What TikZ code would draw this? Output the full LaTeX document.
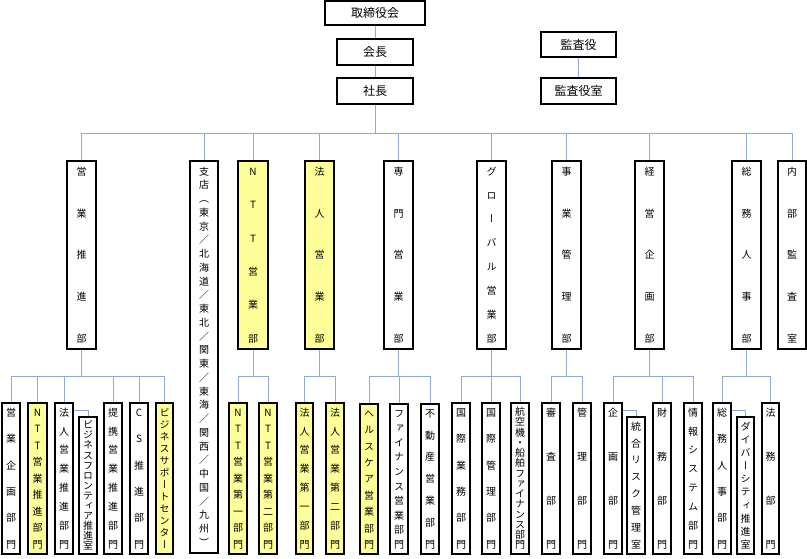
\documentclass[tikz,border=0pt]{standalone}
\usepackage{fontspec}
\setmainfont{Noto Sans CJK JP}
\newfontfamily\jpv{Noto Sans CJK JP}[RawFeature=+vert]
\definecolor{lineblue}{RGB}{142,169,219}
\definecolor{ylw}{RGB}{255,255,153}
\ExplSyntaxOn
\seq_new:N \l_my_vt_seq
\NewDocumentCommand \vtxt { m m m }
 {
  \seq_clear:N \l_my_vt_seq
  \tl_map_inline:nn {#3}
   { \seq_put_right:Nn \l_my_vt_seq { \hbox_to_wd:nn {#1} { \hss \rule[-0.12em]{0pt}{1em} ##1 \hss } } }
  \vbox_to_ht:nn {#2} { \offinterlineskip \seq_use:Nn \l_my_vt_seq { \vfill } }
 }
\ExplSyntaxOff
\newcommand\vn[8]{\node[#6,minimum width={#3pt-#2pt},minimum height={#5pt-#4pt}] (#1) at ({(#2+#3)/2},{(#4+#5)/2}) {\vtxt{\dimexpr#3pt-#2pt\relax}{\dimexpr#5pt-#4pt-#7pt\relax}{#8}};}
\tikzset{
  hb/.style={draw=black,line width=1.2pt,inner sep=0pt,fill=white,font=\fontsize{12}{14}\selectfont},
  vb/.style={draw=black,line width=1.2pt,inner sep=0pt,rectangle,fill=white},
  l1/.style={vb,font=\jpv\fontsize{10}{12}\selectfont},
  l1y/.style={l1,fill=ylw},
  l2/.style={vb,font=\jpv\fontsize{10}{12}\selectfont},
  l2y/.style={l2,fill=ylw},
  conn/.style={draw=lineblue,line width=0.9pt}
}
\begin{document}
\begin{tikzpicture}[x=1pt,y=-1pt]
\useasboundingbox (0,0) rectangle (807,558);
% top
\node[hb,minimum width=100pt,minimum height=24pt] (tori) at (375,13) {取締役会};
\node[hb,minimum width=76pt,minimum height=26pt] (kaicho) at (375,52) {会長};
\node[hb,minimum width=76pt,minimum height=26pt] (shacho) at (375,91) {社長};
\node[hb,minimum width=75pt,minimum height=25pt] (kansa) at (578.5,44.5) {監査役};
\node[hb,minimum width=75pt,minimum height=26pt] (kansas) at (578.5,91) {監査役室};
% level 1
\vn{a}{67}{96}{161}{349}{l1}{12}{営業推進部}
\vn{b}{190}{218}{161}{553}{l1}{12}{支店（東京／北海道／東北／関東／東海／関西／中国／九州）}
\vn{c}{238}{268}{161}{349}{l1y}{12}{NTT営業部}
\vn{d}{305}{334}{161}{349}{l1y}{12}{法人営業部}
\vn{e}{384}{413}{161}{349}{l1}{12}{専門営業部}
\vn{f}{477}{506}{161}{349}{l1}{12}{グローバル営業部}
\vn{g}{552}{581}{161}{349}{l1}{12}{事業管理部}
\vn{h}{635}{664}{161}{349}{l1}{12}{経営企画部}
\vn{i}{732}{761}{161}{349}{l1}{12}{総務人事部}
\vn{j}{778}{806}{161}{349}{l1}{12}{内部監査室}
% level 2
\vn{a1}{2}{20}{403}{554}{l2}{10}{営業企画部門}
\vn{a2}{28}{47}{403}{554}{l2y}{10}{NTT営業推進部門}
\vn{a3}{55}{73}{403}{554}{l2}{10}{法人営業推進部門}
\vn{a4}{79}{97}{417}{554}{l2}{7}{ビジネスフロンティア推進室}
\vn{a5}{104}{122}{403}{554}{l2}{10}{提携営業推進部門}
\vn{a6}{130}{148}{403}{554}{l2}{10}{CS推進部門}
\vn{a7}{156}{173}{403}{554}{l2y}{10}{ビジネスサポートセンター}
\vn{c1}{229}{247}{403}{554}{l2y}{10}{NTT営業第一部門}
\vn{c2}{259}{277}{403}{554}{l2y}{10}{NTT営業第二部門}
\vn{d1}{296}{313}{403}{554}{l2y}{10}{法人営業第一部門}
\vn{d2}{326}{344}{403}{554}{l2y}{10}{法人営業第二部門}
\vn{e1}{360}{378}{404}{554}{l2y}{10}{ヘルスケア営業部門}
\vn{e2}{390}{408}{404}{554}{l2}{10}{ファイナンス営業部門}
\vn{e3}{421}{439}{404}{554}{l2}{10}{不動産営業部門}
\vn{f1}{452}{470}{403}{554}{l2}{10}{国際業務部門}
\vn{f2}{482}{500}{403}{554}{l2}{10}{国際管理部門}
\vn{f3}{511}{529}{403}{554}{l2}{9}{航空機・船舶ファイナンス部門}
\vn{g1}{542}{560}{403}{554}{l2}{10}{審査部門}
\vn{g2}{573}{591}{403}{554}{l2}{10}{管理部門}
\vn{h1}{604}{622}{403}{554}{l2}{10}{企画部門}
\vn{h2}{627}{645}{417}{554}{l2}{10}{統合リスク管理室}
\vn{h3}{653}{671}{403}{554}{l2}{10}{財務部門}
\vn{h4}{684}{702}{403}{554}{l2}{10}{情報システム部門}
\vn{i1}{713}{731}{403}{554}{l2}{10}{総務人事部門}
\vn{i2}{737}{754}{417}{554}{l2}{10}{ダイバーシティ推進室}
\vn{i3}{762}{779}{403}{554}{l2}{10}{法務部門}
% connectors
\draw[conn] (tori) -- (kaicho);
\draw[conn] (kaicho) -- (shacho);
\draw[conn] (kansa) -- (kansas);
\coordinate (bus) at (375,133);
\draw[conn] (shacho.south) -- (bus);
\foreach \n in {a,b,c,d,e,f,g,h,i,j} \draw[conn] (bus) -| (\n.north);
\foreach \p/\cs in {a/{a1,a2,a3,a5,a6,a7},c/{c1,c2},d/{d1,d2},e/{e1,e2,e3},f/{f1,f2,f3},g/{g1,g2},h/{h1,h3,h4},i/{i1,i3}}{
  \path (\p.south) ++(0,27) coordinate (\p b);
  \draw[conn] (\p.south) -- (\p b);
  \foreach \c in \cs \draw[conn] (\p b) -| (\c.north);
}
\draw[conn] ([yshift=-8pt]a3.north east) -| (a4.north);
\draw[conn] ([yshift=-8pt]h1.north east) -| (h2.north);
\draw[conn] ([yshift=-8pt]i1.north east) -| (i2.north);
\end{tikzpicture}
\end{document}
